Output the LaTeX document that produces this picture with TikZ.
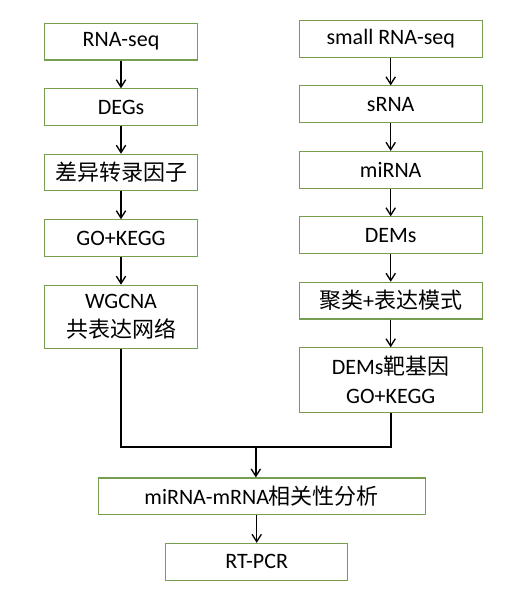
\documentclass[tikz,border=0pt]{standalone}
\usepackage{fontspec}
\setmainfont{Carlito}
\newfontfamily\cjk{Noto Sans CJK SC}
\usetikzlibrary{arrows.meta, positioning, calc}

\definecolor{boxgreen}{RGB}{118,158,78}

\begin{document}
\begin{tikzpicture}[
  x=0.75pt, y=-0.75pt,
  node distance=20.8pt,
  box/.style={draw=boxgreen, line width=0.8pt, align=center, inner sep=0pt,
              font=\fontsize{16.5pt}{21.3pt}\selectfont, minimum height=27.5pt},
  lbox/.style={box, minimum width=114.75pt},
  rbox/.style={box, minimum width=137.25pt},
  ar/.style={-{Straight Barb[length=5.5pt, width=7pt]}, line width=1pt},
  mergeline/.style={line width=1.3pt}
]
\useasboundingbox (0,0) rectangle (528,598);

% mRNA branch
\node[lbox] (rnaseq) at (121,41.7) {RNA-seq};
\node[lbox, below=of rnaseq] (degs) {DEGs};
\node[lbox, below=of degs] (tf) {\cjk 差异转录因子};
\node[lbox, below=of tf] (lgo) {GO+KEGG};
\node[lbox, below=of lgo, minimum height=47.5pt] (wgcna) {WGCNA\\{\cjk 共表达网络}};

% small RNA branch
\node[rbox] (srnaseq) at (390.7,38.8) {small RNA-seq};
\node[rbox, below=of srnaseq] (srna) {sRNA};
\node[rbox, below=of srna] (mirna) {miRNA};
\node[rbox, below=of mirna] (dems) {DEMs};
\node[rbox, below=of dems] (clust) {{\cjk 聚类}+{\cjk 表达模式}};
\node[rbox, below=of clust, minimum height=48.25pt] (rgo) {DEMs{\cjk 靶基因}\\GO+KEGG};

% joint analysis
\node[box, minimum width=245.25pt] (corr) at (261.7,496.3) {miRNA-mRNA{\cjk 相关性分析}};
\node[box, minimum width=136.5pt] (rtpcr) at (256.7,561.7) {RT-PCR};

\draw[ar] (rnaseq) -- (degs);
\draw[ar] (degs) -- (tf);
\draw[ar] (tf) -- (lgo);
\draw[ar] (lgo) -- (wgcna);
\draw[ar] (srnaseq) -- (srna);
\draw[ar] (srna) -- (mirna);
\draw[ar] (mirna) -- (dems);
\draw[ar] (dems) -- (clust);
\draw[ar] (clust) -- (rgo);

\coordinate (jr) at (rgo.south |- 0,447.3);
\coordinate (jl) at (wgcna.south |- jr);
\coordinate (jm) at ($(jl)!0.5!(jr)$);
\draw[mergeline] (wgcna.south) -- (jl) -- (jr) -- (rgo.south);
\draw[ar] (jm) -- (jm |- corr.north);
\draw[ar] (rtpcr.north |- corr.south) -- (rtpcr.north);
\end{tikzpicture}
\end{document}
